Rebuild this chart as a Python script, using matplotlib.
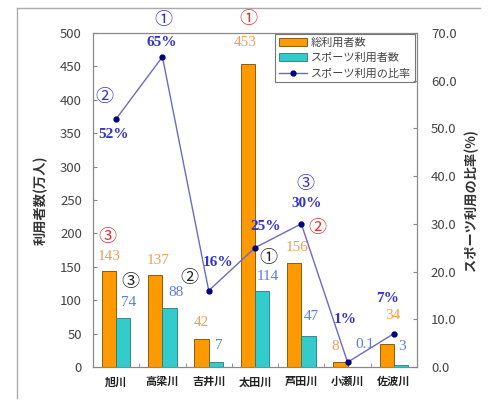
import matplotlib
matplotlib.use("Agg")
import matplotlib.pyplot as plt
from matplotlib.lines import Line2D
import numpy as np

plt.rcParams['font.family'] = ['Noto Sans CJK JP', 'DejaVu Sans']

# data
rivers = ['旭川', '高梁川', '吉井川', '太田川', '芦田川', '小瀬川', '佐波川']
total_users = [143, 137, 42, 453, 156, 8, 34]
sports_users = [74, 88, 7, 114, 47, 0.1, 3]
sports_ratio = [52, 65, 16, 25, 30, 1, 7]
total_labels = ['143', '137', '42', '453', '156', '8', '34']
sports_labels = ['74', '88', '7', '114', '47', '0.1', '3']
ratio_labels = ['52%', '65%', '16%', '25%', '30%', '1%', '7%']

# rank circles: (river index, mark)
total_rank = [(0, '③'), (3, '①'), (4, '②')]
sports_rank = [(0, '③'), (2, '②'), (3, '①')]
ratio_rank = [(0, '②'), (1, '①'), (4, '③')]

c_orange = '#ff9900'
c_teal = '#33cccc'
c_line = '#6a6ac8'
c_pct = '#3333cc'
c_tot_txt = '#f0a050'
c_sp_txt = '#5b7fe0'

fig = plt.figure(figsize=(4.91, 4.03), dpi=100)
ax = fig.add_axes([93/491, 1-367/403, 324/491, 334/403])
ax2 = ax.twinx()

x = np.arange(len(rivers))
w = 0.31
b1 = ax.bar(x - w/2, total_users, w, color=c_orange, edgecolor='#7a4a00', linewidth=0.6, label='総利用者数')
b2 = ax.bar(x + w/2, sports_users, w, color=c_teal, edgecolor='#2a7a7a', linewidth=0.6, label='スポーツ利用者数')
l1, = ax2.plot(x, sports_ratio, color=c_line, lw=1.0, marker='o', ms=3.5,
               mfc='#000080', mec='#000080', label='スポーツ利用の比率')

ax.set_xlim(-0.5, 6.5)
ax.set_ylim(0, 500)
ax2.set_ylim(0, 70)
ax.set_yticks(range(0, 501, 50))
ax2.set_yticks(range(0, 71, 10))
ax2.set_yticklabels(['%.1f' % v for v in range(0, 71, 10)])
ax.set_xticks(x)
ax.set_xticklabels(rivers, fontsize=8, fontweight='bold', color='#222222')
ax.set_xticks(np.arange(0.5, 6.5, 1), minor=True)
ax.tick_params(axis='x', which='major', length=0, pad=6)
ax.tick_params(axis='x', which='minor', length=3, direction='in', color='#888888')
ax.tick_params(axis='y', direction='in', length=3, labelsize=9.5, labelcolor='#444444', color='#888888', pad=8)
ax2.tick_params(axis='y', direction='in', length=3, labelsize=9.5, labelcolor='#444444', color='#888888', pad=10)
for a in (ax, ax2):
    for s in a.spines.values():
        s.set_color('#888888')
        s.set_linewidth(0.8)

ax.set_ylabel('利用者数(万人)', fontsize=9.5, fontweight='bold', color='#333333', labelpad=9)
ax2.set_ylabel('スポーツ利用の比率(%)', fontsize=9.5, fontweight='bold', color='#333333',
               rotation=90, labelpad=5)

serif = ['Liberation Serif', 'DejaVu Serif']

# bar labels
tot_off = [(0, 15), (3, 15), (0, 16), (-3, 22), (3, 15), (-5, 15), (6, 29)]
for i, v in enumerate(total_users):
    ax.annotate(total_labels[i], (x[i] - w/2, v), xytext=tot_off[i], textcoords='offset pixels',
                ha='center', va='center', color=c_tot_txt, fontsize=11, family=serif)
sp_off = [(5, 15), (6, 16), (3, 17), (6, 14), (3, 19), (10, 22), (1, 18)]
for i, v in enumerate(sports_users):
    ax.annotate(sports_labels[i], (x[i] + w/2, v), xytext=sp_off[i], textcoords='offset pixels',
                ha='center', va='center', color=c_sp_txt, fontsize=11, family=serif)
pct_off = [(-3, -16), (-1, 14), (9, 28), (11, 21), (5, 20), (-2, 43), (-6, 35)]
for i, v in enumerate(sports_ratio):
    ax2.annotate(ratio_labels[i], (x[i], v), xytext=pct_off[i], textcoords='offset pixels',
                 ha='center', va='center', color=c_pct, fontsize=11, fontweight='bold', family=serif)

# rank circles
tot_rank_off = {0: (-2, 34), 3: (1, 45), 4: (23, 35)}
for i, m in total_rank:
    ax.annotate(m, (x[i] - w/2, total_users[i]), xytext=tot_rank_off[i], textcoords='offset pixels',
                ha='center', va='center', color='#e03030', fontsize=13, annotation_clip=False)
sp_rank_off = {0: (7, 36), 2: (-27, 84), 3: (6, 33)}
for i, m in sports_rank:
    ax.annotate(m, (x[i] + w/2, sports_users[i]), xytext=sp_rank_off[i], textcoords='offset pixels',
                ha='center', va='center', color='#222222', fontsize=13)
rt_rank_off = {0: (-12, 22), 1: (1, 37), 4: (4, 40)}
for i, m in ratio_rank:
    ax2.annotate(m, (x[i], sports_ratio[i]), xytext=rt_rank_off[i], textcoords='offset pixels',
                 ha='center', va='center', color=c_pct, fontsize=13, annotation_clip=False)

leg = ax.legend(handles=[b1, b2, l1], loc='upper right', bbox_to_anchor=(1.0, 1.005),
                fontsize=8, frameon=True, fancybox=False, edgecolor='#555555',
                borderpad=0.35, labelspacing=0.45, handlelength=2.6, handletextpad=0.3, borderaxespad=0.2)
leg.get_frame().set_linewidth(0.8)
for t in leg.get_texts():
    t.set_color('#444444')

# outer frame (left and top edges)
fig.add_artist(Line2D([17/491, 17/491], [1-398/403, 1-8/403], color='#aaaaaa', lw=1))
fig.add_artist(Line2D([17/491, 480/491], [1-8/403, 1-8/403], color='#aaaaaa', lw=1))

fig.savefig('out.png', dpi=100)
